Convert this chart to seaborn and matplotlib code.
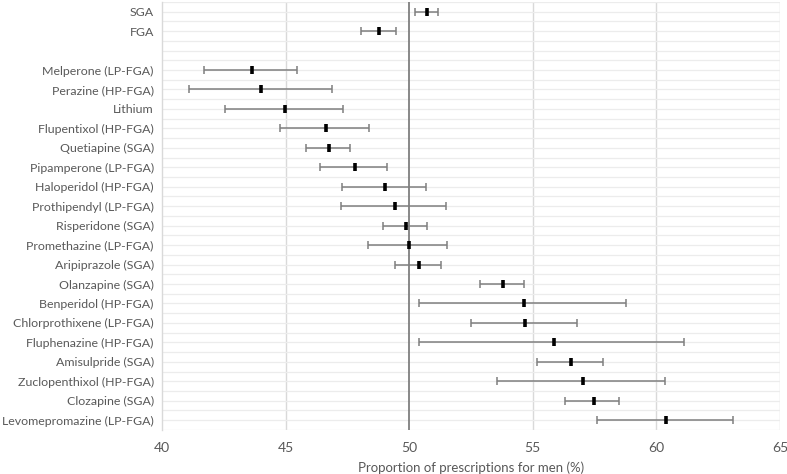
import numpy as np
import matplotlib.pyplot as plt
import pandas as pd
import seaborn as sns

sns.set_style('white')
plt.rcParams['font.family'] = ['Lato', 'DejaVu Sans']

# data (proportion of prescriptions for men, %)
drugs = ["SGA", "FGA", "",
         "Melperone (LP-FGA)", "Perazine (HP-FGA)", "Lithium", "Flupentixol (HP-FGA)",
         "Quetiapine (SGA)", "Pipamperone (LP-FGA)", "Haloperidol (HP-FGA)",
         "Prothipendyl (LP-FGA)", "Risperidone (SGA)", "Promethazine (LP-FGA)",
         "Aripiprazole (SGA)", "Olanzapine (SGA)", "Benperidol (HP-FGA)",
         "Chlorprothixene (LP-FGA)", "Fluphenazine (HP-FGA)", "Amisulpride (SGA)",
         "Zuclopenthixol (HP-FGA)", "Clozapine (SGA)", "Levomepromazine (LP-FGA)"]
estimate = [50.73, 48.78, np.nan,
            43.63, 44.02, 44.96, 46.63, 46.77, 47.81, 49.03, 49.41, 49.88, 49.98,
            50.40, 53.79, 54.64, 54.68, 55.86, 56.55, 57.02, 57.48, 60.40]
ci_low = [50.23, 48.04, np.nan,
          41.70, 41.09, 42.56, 44.75, 45.84, 46.40, 47.27, 47.24, 48.95, 48.35,
          49.41, 52.86, 50.40, 52.49, 50.38, 55.17, 53.54, 56.32, 57.60]
ci_high = [51.15, 49.45, np.nan,
           45.46, 46.88, 47.32, 48.39, 47.61, 49.10, 50.69, 51.49, 50.72, 51.52,
           51.29, 54.64, 58.77, 56.78, 61.13, 57.83, 60.36, 58.49, 63.11]

df = pd.DataFrame({"drug": drugs, "est": estimate, "lo": ci_low, "hi": ci_high})
df["pos"] = np.arange(len(df))

fig = plt.figure(figsize=(7.87, 4.74), dpi=100)
ax = fig.add_axes([0.206, 0.093, 0.785, 0.903])

grey_txt = "#595959"

# light grid: vertical at ticks, horizontal at each row and between rows
for x in [45, 55, 60, 65]:
    ax.axvline(x, color="#d9d9d9", lw=1, zorder=0)
for y in np.arange(-0.5, len(df), 0.5):
    ax.axhline(y, color="#ececec", lw=0.9, zorder=0)
ax.axvline(50, color="#7f7f7f", lw=1.3, zorder=1)

d = df.dropna()
ax.errorbar(d["est"], d["pos"], xerr=[d["est"] - d["lo"], d["hi"] - d["est"]],
            fmt="none", ecolor="#7f7f7f", elinewidth=1.1, capsize=3, capthick=1.1, zorder=2)
sns.scatterplot(data=d, x="est", y="pos", marker="|", s=40, linewidth=2.6,
                color="black", ax=ax, zorder=3, legend=False)

ax.set_xlim(40, 65)
ax.set_ylim(len(df) - 0.5, -0.5)
ax.set_xticks([40, 45, 50, 55, 60, 65])
ax.set_yticks(df["pos"])
ax.set_yticklabels(df["drug"])
ax.tick_params(axis="both", length=0, colors=grey_txt)
ax.tick_params(axis="x", pad=9, labelsize=10)
ax.tick_params(axis="y", pad=6, labelsize=8.9)
ax.set_xlabel("Proportion of prescriptions for men (%)", color=grey_txt, fontsize=9.5, labelpad=5)
ax.set_ylabel("")

for s in ["top", "right", "bottom"]:
    ax.spines[s].set_visible(False)
ax.spines["left"].set_color("#d9d9d9")
ax.spines["left"].set_linewidth(1)

fig.savefig("out.png", dpi=100)
